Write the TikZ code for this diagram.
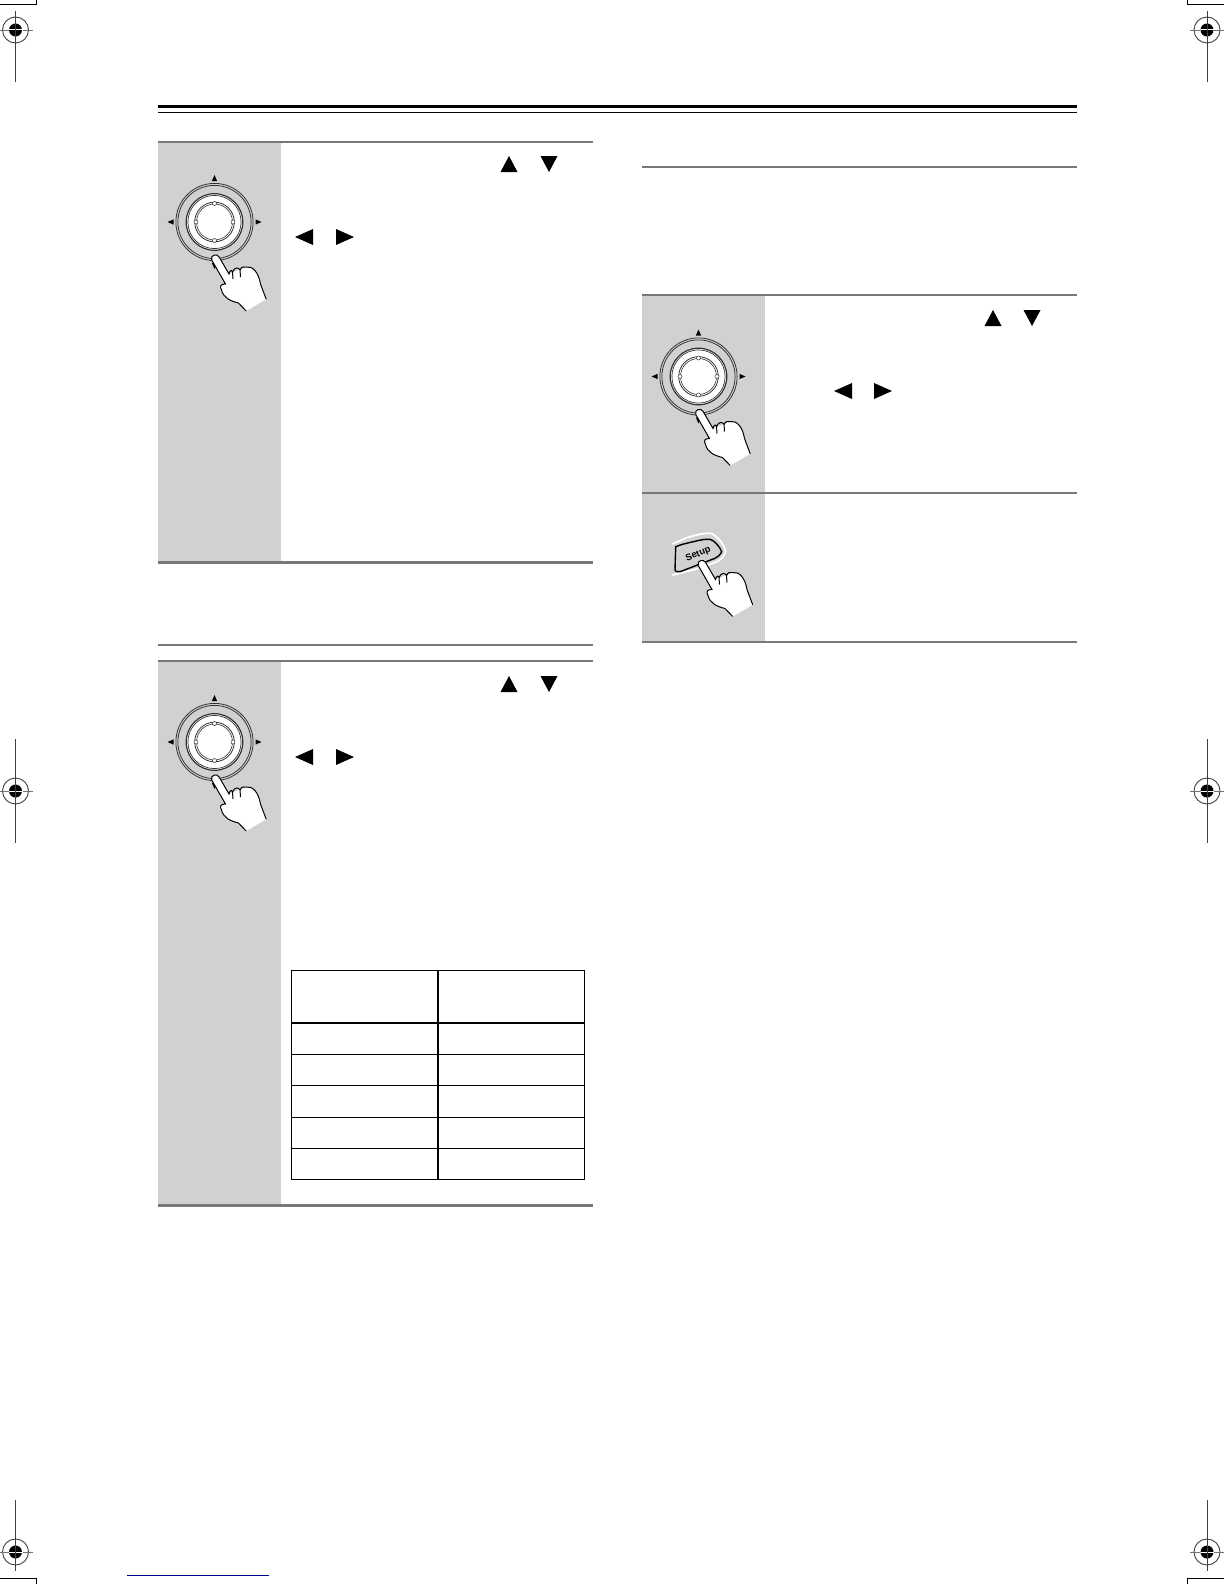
\documentclass[tikz,border=0pt]{standalone}
\usepackage{fontspec}
\newfontfamily\keyfont{Liberation Sans}
\definecolor{panelgray}{gray}{0.82}
\definecolor{rulegray}{gray}{0.47}
\definecolor{footblue}{RGB}{0,0,140}
\tikzset{
  rulethick/.style={draw=rulegray,line width=1.5pt},
  rulethin/.style={draw=rulegray,line width=1pt},
  tablethin/.style={draw=black,line width=0.6pt},
  tablethick/.style={draw=black,line width=1.1pt},
  regline/.style={draw=black!75,line width=0.45pt},
  ringline/.style={draw=black!80,line width=#1},
  ringline/.default=0.4pt,
  pics/regmark/.style={code={
    \draw[regline] (0,0) circle (13);
    \fill[black] (0,0) circle (6.5);
    \draw[white,line width=0.5pt] (-6.5,0) -- (6.5,0) (0,-6.5) -- (0,6.5);
    \draw[regline,draw=black!55] (-17,0) -- (-7,0) (7,0) -- (17,0);
  }},
  pics/triup/.style={code={\fill[black] (-8.5,8) -- (0,-8) -- (8.5,8) -- cycle;}},
  pics/tridown/.style={code={\fill[black] (-8.5,-8) -- (0,8) -- (8.5,-8) -- cycle;}},
  pics/trileft/.style={code={\fill[black] (9,-8) -- (-9,0) -- (9,8) -- cycle;}},
  pics/triright/.style={code={\fill[black] (-9,-8) -- (9,0) -- (-9,8) -- cycle;}},
  pics/pointer/.style={code={
    % hand, fingertip near (0.7,36)
    \fill[white] (-2.8,38) -- (11,62) .. controls (6,62) and (5,64) .. (7,68)
      .. controls (9,76) and (16,79) .. (24,81) -- (31.7,89) -- (51.7,77.3)
      -- (46,62) .. controls (44,50) and (38,44) .. (32,45)
      -- (14.5,52) -- (4.6,35) .. controls (3,31.5) and (-4.5,32.5) .. (-2.8,38) -- cycle;
    \draw[line width=0.5pt] (-2.8,38) -- (11,62) .. controls (6,62) and (5,64) .. (7,68)
      .. controls (9,76) and (16,79) .. (24,81) -- (31.7,89);
    \draw[line width=0.5pt] (51.7,77.3) -- (46,62) .. controls (44,50) and (38,44) .. (32,45)
      .. controls (29,44) and (27,45) .. (25.5,48)
      .. controls (24,45) and (20,45) .. (18,50) -- (18.5,57)
      (18,50) .. controls (17,47) and (15,49) .. (14.5,52)
      -- (4.6,35) .. controls (3,31.5) and (-4.5,32.5) .. (-2.8,38)
      (25.5,48) -- (26,55);
  }},
  pics/dialpad/.style={code={
    \fill[black] (0,-47) -- (-2.6,-41) -- (2.6,-41) -- cycle;
    \fill[black] (-47,0) -- (-41,-2.6) -- (-41,2.6) -- cycle;
    \fill[black] (47,0) -- (41,-2.6) -- (41,2.6) -- cycle;
    \fill[black] (0,47) -- (-2.6,41) -- (2.6,41) -- cycle;
    \draw[ringline] (0,0) circle (38.6);
    \draw[ringline] (0,0) circle (36.6);
    \draw[ringline=0.6pt,fill=white] (0,0) circle (28.3);
    \draw[ringline=0.35pt] (0,0) circle (26.6);
    \draw[ringline] (0,0) circle (19.8);
    \draw[ringline=0.3pt] (0,0) circle (18);
    \foreach \ang in {0,90,180,270}
      \draw[ringline=0.25pt,fill=white] (\ang:18.5) circle (2);
    \pic {pointer};
  }}
}
\begin{document}
\begin{tikzpicture}[x=0.5pt,y=-0.5pt]
\useasboundingbox (0,0) rectangle (1224,1584);
% grey panels
\fill[panelgray] (158,142) rectangle (281,562);
\fill[panelgray] (158,660) rectangle (281,1205);
\fill[panelgray] (642,295) rectangle (765,641);
% page head
\draw[black,line width=1.6pt] (158,106.4) -- (1077,106.4);
\draw[black,line width=0.5pt] (158,112.3) -- (1077,112.3);
% rules left column
\draw[rulethin] (158,142) -- (593,142);
\draw[rulethick] (158,562.5) -- (593,562.5);
\draw[rulethin] (158,645) -- (593,645);
\draw[rulethin] (158,661) -- (593,661);
\draw[rulethick] (158,1205.5) -- (593,1205.5);
% rules right column
\draw[rulethin] (642,167) -- (1077,167);
\draw[rulethin] (642,295) -- (1077,295);
\draw[rulethin] (642,492.8) -- (1077,492.8);
\draw[rulethin] (642,641.5) -- (1077,641.5);
% dials
\pic at (214.5,222) {dialpad};
\pic at (214.5,742) {dialpad};
\pic at (698.5,376.5) {dialpad};
% arrow glyphs
\pic at (509,164) {triup};
\pic at (549,164) {tridown};
\pic at (304,237) {trileft};
\pic at (345,237) {triright};
\pic at (509,684) {triup};
\pic at (549,684) {tridown};
\pic at (304,757) {trileft};
\pic at (345,757) {triright};
\pic at (993,318) {triup};
\pic at (1032,318) {tridown};
\pic at (843,391) {trileft};
\pic at (883,391) {triright};
% setup key
\draw[white,line width=0.9pt] (672.3,544) .. controls (680,541) and (685,538) .. (690,536.7)
  .. controls (698,534.5) and (704,533) .. (710,533.3)
  .. controls (716,534) and (724,544) .. (725.7,551.7)
  .. controls (724,557) and (720,560) .. (716.7,561.7)
  .. controls (708,565) and (700,568) .. (693,570) -- (672.3,575);
\draw[line width=0.7pt] (675.7,546.7) .. controls (682,544) and (688,543) .. (693.3,541.7)
  .. controls (700,540) and (705,539) .. (710,539.3)
  .. controls (714,540) and (720,547) .. (721.7,551.7)
  .. controls (720,555) and (718,557) .. (715,558.3)
  -- (680,571.7) .. controls (677,572) and (675,571.5) .. (675,570) -- cycle;
\node[rotate=22,font=\keyfont\bfseries\fontsize{4.7}{6}\selectfont,inner sep=0pt] (setupkey) at (698.3,554.3) {Setup};
\pic at (701,527.5) {pointer};
% table
\draw[tablethin] (291.5,970.5) rectangle (584.5,1179.5);
\draw[tablethin] (291.5,1054.5) -- (584.5,1054.5);
\draw[tablethin] (291.5,1085.5) -- (584.5,1085.5);
\draw[tablethin] (291.5,1117.5) -- (584.5,1117.5);
\draw[tablethin] (291.5,1148.5) -- (584.5,1148.5);
\draw[tablethick] (291.5,1022.7) -- (584.5,1022.7);
\draw[tablethick] (438,970.5) -- (438,1179.5);
% registration marks
\pic at (15.5,30) {regmark};
\pic at (1207,30) {regmark};
\pic at (15.5,791) {regmark};
\pic at (1207,791) {regmark};
\pic at (15.5,1552) {regmark};
\pic at (1207,1552) {regmark};
\draw[regline] (15.5,11) -- (15.5,82);
\draw[regline] (1207,11) -- (1207,82);
\draw[regline] (15.5,739) -- (15.5,843);
\draw[regline] (1207,739) -- (1207,843);
\draw[regline] (15.5,1500) -- (15.5,1571);
\draw[regline] (1207,1500) -- (1207,1571);
% crop corners
\draw[black,line width=0.5pt] (0,4.5) -- (36.5,4.5) -- (36.5,0);
\draw[black,line width=0.5pt] (1224,4.5) -- (1187,4.5) -- (1187,0);
\draw[black,line width=0.5pt] (0,1578.5) -- (36.5,1578.5) -- (36.5,1584);
\draw[black,line width=0.5pt] (1224,1578.5) -- (1187,1578.5) -- (1187,1584);
% footer line
\draw[footblue,line width=0.7pt] (127,1575.5) -- (269,1575.5);
\end{tikzpicture}
\end{document}
